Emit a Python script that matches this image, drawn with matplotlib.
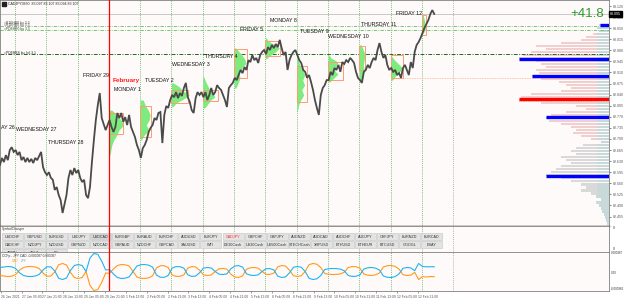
import numpy as np
import matplotlib
matplotlib.use("Agg")
import matplotlib.pyplot as plt
from matplotlib.patches import Rectangle
from matplotlib.transforms import blended_transform_factory

plt.rcParams['font.family'] = ['Liberation Sans', 'DejaVu Sans']
BG = '#FFFAFA'

# ------------------------------------------------------------------ data
title_text = "CADJPY,M30  83.097 83.107 83.094 83.107"
profit_text = "+41.8"

# time axis = trading hours since Wed 27 Jan 00:00 (weekends removed, 24 per day)
first_hour = -11.5
bar_step_h = 1.5
close_price = [
    82.618, 82.640, 82.627, 82.649, 82.633, 82.665, 82.674, 82.659, 82.665, 82.649,
    82.659, 82.633, 82.643, 82.627, 82.640, 82.627, 82.637, 82.624, 82.640, 82.633,
    82.646, 82.659, 82.611, 82.595, 82.586, 82.595, 82.577, 82.571, 82.539, 82.548,
    82.523, 82.507, 82.466, 82.494, 82.523, 82.577, 82.602, 82.586, 82.608, 82.592,
    82.602, 82.577, 82.564, 82.571, 82.523, 82.513, 82.548, 82.627, 82.697, 82.760,
    82.807, 82.845, 82.766, 82.747, 82.728, 82.744, 82.760, 82.738, 82.722, 82.738,
    82.782, 82.766, 82.782, 82.754, 82.769, 82.744, 82.776, 82.738, 82.722, 82.706,
    82.681, 82.665, 82.640, 82.671, 82.681, 82.697, 82.722, 82.735, 82.744, 82.766,
    82.760, 82.782, 82.785, 82.687, 82.776, 82.804, 82.798, 82.823, 82.839, 82.832,
    82.848, 82.829, 82.845, 82.836, 82.861, 82.877, 82.832, 82.817, 82.791, 82.782,
    82.829, 82.848, 82.839, 82.848, 82.832, 82.848, 82.823, 82.839, 82.861, 82.839,
    82.848, 82.870, 82.861, 82.855, 82.839, 82.823, 82.801, 82.861, 82.870, 82.877,
    82.893, 82.886, 82.902, 82.918, 82.908, 82.927, 82.918, 82.949, 82.943, 82.965,
    82.949, 82.956, 82.940, 82.965, 82.975, 82.981, 82.968, 82.990, 82.981, 82.997,
    82.987, 83.000, 82.990, 83.013, 82.987, 82.965, 82.975, 82.918, 82.949, 82.965,
    82.975, 82.981, 82.965, 82.949, 82.940, 82.918, 82.912, 82.893, 82.902, 82.880,
    82.855, 82.823, 82.798, 82.776, 82.839, 82.861, 82.870, 82.886, 82.886, 82.912,
    82.902, 82.924, 82.918, 82.934, 82.912, 82.943, 82.937, 82.949, 82.943, 82.956,
    82.949, 82.940, 82.912, 82.893, 82.886, 82.877, 82.912, 82.918, 82.934, 82.924,
    82.943, 82.956, 82.949, 82.981, 83.003, 82.975, 82.956, 82.965, 82.934, 82.918,
    82.924, 82.912, 82.918, 82.902, 82.908, 82.893, 82.924, 82.934, 82.918, 82.902,
    82.943, 82.924, 82.975, 82.997, 83.006, 83.019, 83.035, 83.051, 83.063, 83.076,
    83.095, 83.107, 83.095]

# CCFp indicator (units of 1e-5), one value every 3 hours
ccf_step_h = 3.0
ccf_cad = [
    -7.3, -8.3, -9.2, -8.6, -5.5, 2.4, 7.3, 9.0, 9.2, 8.3, 5.5, -2.8, -8.8, -8.4, -0.9,
    12.5, 14.7, 11.9, -1.8, -11.0, -12.8, -11.0, 0.0, -25.7, -34.9, -33.0, -20.2, -2.8, -3.3,
    4.6, 11.0, 12.8, 12.3, 10.1, 0.0, -10.1, -12.5, -12.8, -11.6, -8.1, 6.6, 10.6, 10.6, 7.2,
    -6.2, -9.0, -8.8, -6.2, 6.1, 9.0, 8.4, 2.4, -6.2, -7.3, -6.4, 0.0, 5.0, 5.5, 4.4,
    -4.8, -10.1, -10.8, -8.1, 4.2, 6.8, 7.3, 6.1, 0.0, -5.1, -5.3, -2.9, 8.6, 11.0, 9.9, 2.4,
    -7.7, -9.2, -7.9, 0.0, 12.5, 14.7, 13.4, 7.3, -3.7, -5.0, -5.5, -5.3, -4.4, -1.3,
    7.2, 9.0, 8.8, 6.1, -4.6, -6.8, -7.3, -6.2, -2.6, 8.3, 10.6, 11.0, 9.4, 4.4,
    -5.9, -7.3, -6.6, -1.5, -14.7, -9.2, -10.1, -9.2, -9.5]
ccf_jpy = [
    7.3, 8.3, 9.2, 8.6, 5.5, -2.4, -7.3, -9.0, -9.2, -8.3, -5.5, 2.8, 8.8, 8.4, 0.9,
    -12.5, -14.7, -11.9, 1.8, 11.0, 12.8, 11.0, 0.0, 24.8, 33.0, 31.5, 19.0, 2.8, 3.3,
    -4.6, -11.0, -12.8, -12.3, -10.1, 0.0, 10.1, 12.5, 12.8, 11.6, 8.1, -6.6, -10.6, -10.6, -7.2,
    6.2, 9.0, 8.8, 6.2, -6.1, -9.0, -8.4, -2.4, 6.2, 7.3, 6.4, 0.0, -5.0, -5.5, -4.4,
    4.8, 10.1, 10.8, 8.1, -4.2, -6.8, -7.3, -6.1, 0.0, 5.1, 5.3, 2.9, -8.6, -11.0, -9.9, -2.4,
    7.7, 9.2, 7.9, 0.0, -12.5, -14.7, -13.4, -7.3, 3.7, 5.0, 5.5, 5.3, 4.4, 1.3,
    -7.2, -9.0, -8.8, -6.1, 4.6, 6.8, 7.3, 6.2, 2.6, -8.3, -10.6, -11.0, -9.4, -4.4,
    5.9, 7.3, 6.6, 1.5, 14.7, 9.2, 8.5, 8.8, 8.6]

day_names = ["AY 26", "WEDNESDAY 27", "THURSDAY 28", "FRIDAY 29", "MONDAY 1",
             "TUESDAY 2", "WEDNESDAY 3", "THURSDAY 4", "FRIDAY 5", "MONDAY 8",
             "TUESDAY 9", "WEDNESDAY 10", "THURSDAY 11", "FRIDAY 12"]
month_name = "February"

# session value areas (start hour, width in hours, high, low)
va_start_h = [72, 96, 120, 144, 168, 192, 216, 240, 264, 288, 312]
va_width_h = [11.0, 8.5, 13.0, 12.0, 10.0, 11.5, 7.7, 11.5, 4.6, 9.2, 3.0]
va_high = [82.782, 82.804, 82.855, 82.855, 82.984, 83.009, 82.930, 82.943, 82.994, 82.965, 83.092]
va_low = [82.716, 82.706, 82.814, 82.820, 82.893, 82.962, 82.817, 82.886, 82.918, 82.893, 83.028]

# session volume profiles (price levels, width in hours)
prof_prices = [
    [82.791, 82.776, 82.760, 82.744, 82.728, 82.712, 82.697, 82.681, 82.665, 82.649],
    [82.823, 82.807, 82.791, 82.776, 82.760, 82.744, 82.728, 82.712, 82.697],
    [82.877, 82.864, 82.851, 82.839, 82.826, 82.814, 82.801],
    [82.896, 82.880, 82.861, 82.845, 82.832, 82.823, 82.810, 82.798],
    [82.987, 82.972, 82.956, 82.940, 82.924, 82.908, 82.893, 82.877, 82.861],
    [83.019, 83.009, 83.000, 82.987, 82.975, 82.962, 82.953],
    [82.956, 82.934, 82.918, 82.902, 82.886, 82.870, 82.855, 82.839, 82.823, 82.807, 82.791],
    [82.965, 82.956, 82.943, 82.930, 82.918, 82.905, 82.893, 82.880],
    [82.997, 82.981, 82.965, 82.949, 82.934, 82.918, 82.902, 82.886],
    [82.962, 82.949, 82.937, 82.924, 82.912, 82.899, 82.886],
    [83.095, 83.082, 83.069, 83.057, 83.044, 83.032]]
prof_width_h = [
    [2.3, 6.1, 9.2, 11.5, 7.7, 6.1, 3.8, 2.3, 1.5, 0.8],
    [2.3, 3.8, 6.1, 7.7, 6.9, 4.6, 6.9, 3.1, 0.8],
    [1.5, 6.1, 9.2, 13.8, 9.2, 3.8, 0.8],
    [0.8, 2.3, 4.6, 7.7, 9.2, 6.1, 3.8, 1.5],
    [1.5, 4.6, 7.7, 9.2, 6.1, 3.8, 4.6, 3.1, 1.5],
    [0.8, 2.3, 6.1, 10.7, 7.7, 3.1, 0.8],
    [0.8, 2.3, 4.6, 6.1, 4.6, 6.1, 3.8, 5.4, 3.1, 1.5, 0.8],
    [0.8, 2.3, 7.7, 6.1, 4.6, 7.7, 4.6, 1.5],
    [1.5, 3.1, 4.6, 3.8, 3.1, 3.8, 3.1, 1.5],
    [0.8, 3.1, 6.1, 9.2, 6.9, 3.8, 1.5],
    [0.8, 1.5, 2.3, 3.1, 2.3, 0.8]]

# composite volume profile on the right (top bin price, bin size, lengths in hours)
vp_top_price = 83.060
vp_bin = 0.0095
vp_len_h = [7.7, 9.2, 7.7, 12.3, 17.6, 21.5, 36.8, 56.0, 48.3, 59.8, 66.0, 69.0, 56.0, 52.2,
            48.3, 56.0, 53.7, 59.1, 52.2, 38.4, 33.0, 29.1, 36.8, 59.8, 67.5, 69.0, 52.2, 25.3,
            17.6, 33.0, 44.5, 48.3, 46.0, 36.8, 29.1, 25.3, 27.6, 21.5, 13.8, 6.1, 19.9, 25.3,
            29.1, 25.3, 36.8, 33.0, 29.1, 36.8, 40.7, 44.5, 48.3, 36.8, 29.1, 21.5, 17.6, 21.5,
            13.8, 10.0, 6.1, 10.0, 7.7, 6.1, 5.4, 3.8, 3.1, 2.3, 1.5]
key_level_price = [83.060, 82.953, 82.899, 82.826, 82.769, 82.583]
key_level_len_h = [6.9, 69.0, 59.0, 69.0, 48.0, 48.0]

pivot_prices = [83.057, 83.044, 82.968]
pivot_names = ["=R1EHB0 bu 3.3", "=PDEHB0 bu 3.5", "=PDEHBS bu_hrl.3.1"]

price_ticks = [83.120 - 0.035 * i for i in range(20)]

date_labels = ["26 Jan 2021", "27 Jan 05:00", "27 Jan 21:00", "28 Jan 13:00", "29 Jan 05:00",
               "29 Jan 21:00", "1 Feb 13:00", "2 Feb 05:00", "2 Feb 21:00", "3 Feb 13:00",
               "4 Feb 05:00", "4 Feb 21:00", "5 Feb 13:00", "8 Feb 05:00", "8 Feb 21:00",
               "9 Feb 13:00", "10 Feb 05:00", "10 Feb 21:00", "11 Feb 13:00", "12 Feb 05:00",
               "12 Feb 21:00"]

symbols_row1 = ["USDCHF", "GBPUSD", "EURUSD", "USDJPY", "USDCAD", "EURGBP", "EURAUD", "EURCHF",
                "AUDUSD", "EURJPY", "CADJPY", "GBPCHF", "GBPJPY", "AUDNZD", "AUDCAD", "AUDCHF",
                "AUDJPY", "CHFJPY", "EURNZD", "EURCAD"]
symbols_row2 = ["CADCHF", "NZDJPY", "NZDUSD", "GBPNZD", "NZDCAD", "GBPAUD", "NZDCHF", "GBPCAD",
                "XAUUSD", "WTI", "DE30Cash", "US30Cash", "US500Cash", "STECHCash", "XRPUSD",
                "ETHUSD", "ETHEUR", "BTCUSD", "GOOGL", "EBAY"]
symbols_row3 = ["AMZN", "TSLA", "FB"]

# ------------------------------------------------------------------ figure
W, H = 625, 301
fig = plt.figure(figsize=(W / 100, H / 100), dpi=100, facecolor='white')
R = 609 / W
ax = fig.add_axes([0, 1 - 226 / H, R, 226 / H], facecolor=BG)
axs = fig.add_axes([0, 1 - 252 / H, R, 26 / H], facecolor=BG)
axi = fig.add_axes([0, 1 - 291 / H, R, 39 / H], facecolor=BG)

t_left, t_right = -11.5, 455.5
for a in (ax, axs, axi):
    a.set_xlim(t_left, t_right)
    for s in a.spines.values():
        s.set_color('#808080')
        s.set_linewidth(0.6)
ax.set_ylim(82.425, 83.139)
axs.set_ylim(26, 0)
axi.set_ylim(-35.8, 35.8)
ax.spines['bottom'].set_color('black')
ax.spines['bottom'].set_linewidth(1.0)

# day separators
for k in range(15):
    t = 24 * k
    for a in (ax, axs, axi):
        if k == 3:
            a.axvline(t, color='#FF0000', lw=0.9, zorder=4)
        elif k == 14:
            a.axvline(t, color='#9A9A9A', lw=0.6, ls=(0, (1, 1.5)), zorder=1)
        else:
            a.axvline(t, color='#4DAA4D', lw=0.6, ls=(0, (1, 1.5)), zorder=1)

# composite profile on right
vp_levels = vp_top_price - vp_bin * np.arange(len(vp_len_h))
vp_len = np.array(vp_len_h)
vp_cols = ['#F2CFCF' if p > 82.685 else '#D9D9D9' for p in vp_levels]
ax.barh(vp_levels, vp_len, left=t_right - vp_len, height=vp_bin * 0.75,
        color=vp_cols, lw=0, zorder=1)
ax.barh(vp_levels, np.minimum(vp_len, 9), left=t_right - np.minimum(vp_len, 9),
        height=vp_bin * 0.75, color='#C9D9D9', lw=0, zorder=1)

# pivot / reference lines
ax.axhline(close_price[-1], color='#C0C0C0', lw=0.6, zorder=2)
ax.axhline(pivot_prices[0], color='#66BB66', lw=0.6, ls=(0, (4, 1.5, 1, 1.5)), zorder=2)
ax.axhline(pivot_prices[1], color='#66BB66', lw=0.6, ls=(0, (4, 1.5, 1, 1.5)), zorder=2)
ax.axhline(pivot_prices[2], color='#1F6B1F', lw=0.7, ls=(0, (4, 1.5, 1, 1.5)), zorder=2)
ytr = blended_transform_factory(ax.transAxes, ax.transData)
ax.text(4 / 609, pivot_prices[0] + 0.010, pivot_names[0], fontsize=2.4, color='#444444',
        transform=ytr, va='center')
ax.text(4 / 609, pivot_prices[0] + 0.002, pivot_names[0], fontsize=2.4, color='#444444',
        transform=ytr, va='center')
ax.text(4 / 609, pivot_prices[1] + 0.002, pivot_names[1], fontsize=2.4, color='#444444',
        transform=ytr, va='center')
ax.text(4 / 609, pivot_prices[2] + 0.005, pivot_names[2], fontsize=2.4, color='#222222',
        transform=ytr, va='center')

# session profiles and value areas
for t0, pp, ww in zip(va_start_h, prof_prices, prof_width_h):
    ax.fill_betweenx(pp, t0, t0 + np.array(ww), color='#7DEB7D', lw=0, zorder=2)
for t0, w, hi, lo in zip(va_start_h, va_width_h, va_high, va_low):
    ax.add_patch(Rectangle((t0, lo), w, hi - lo, fill=False, ec='#FF9C6E', lw=0.7, zorder=3))
# extension of last full session value-area low
ax.hlines(va_low[9], va_start_h[9] + va_width_h[9], t_right, color='#FFB08A', lw=0.6,
          ls=(0, (1, 1)), zorder=2)
ax.hlines(key_level_price[3] - 0.006, t_right - key_level_len_h[3], t_right, color='#FFA060',
          lw=0.6, ls=(0, (1, 1)), zorder=2)

# key levels
for p, L, c in zip(key_level_price, key_level_len_h,
                   ['#0000FF', '#0000FF', '#0000FF', '#FF0000', '#0000FF', '#0000FF']):
    ax.hlines(p, t_right - L, t_right, color=c, lw=2.4, zorder=3)

# price
times = first_hour + bar_step_h * np.arange(len(close_price))
ax.plot(times, close_price, color='#4A4A4A', lw=1.3, zorder=5, solid_joinstyle='miter')

# day labels
day_label_pos = [(-11.0, 82.735), (1.0, 82.731), (25.3, 82.690), (52.0, 82.902), (76.0, 82.855),
                 (99.7, 82.886), (120.4, 82.934), (145.7, 82.959), (172.6, 83.047),
                 (195.6, 83.073), (218.6, 83.041), (240.0, 83.025), (265.4, 83.063),
                 (292.2, 83.095)]
for name, (tx, py) in zip(day_names, day_label_pos):
    ax.text(tx, py, name, fontsize=3.8, color='#111111', va='center', ha='left', zorder=6)
ax.text(75.2, 82.886, month_name, fontsize=4.6, color='#FF1A1A', fontweight='bold',
        va='center', ha='left', zorder=6)

# title and profit text
ax.add_patch(Rectangle((1.5 / 609, 1 - 6 / 226), 4 / 609, 4 / 226, transform=ax.transAxes,
                       color='#222222', zorder=6))
ax.text(8 / 609, 1 - 4 / 226, title_text, fontsize=2.6, color='#222222', va='center',
        transform=ax.transAxes)
ax.text(604 / 609, 1 - 14 / 226, profit_text, fontsize=9.5, color='#2E9A2E', va='center',
        ha='right', transform=ax.transAxes, zorder=7)

# price axis
ax.yaxis.tick_right()
ax.set_yticks(price_ticks)
ax.set_yticklabels([f"{p:.3f}" for p in price_ticks], fontsize=2.6, color='#333333')
ax.tick_params(axis='y', length=1.5, width=0.5, pad=1, colors='#555555')
ax.set_xticks([])
ax.text(1.002, close_price[-1], f"{close_price[-1]:.3f}", transform=ytr, fontsize=2.6,
        color='white', va='center', ha='left', zorder=10,
        bbox=dict(boxstyle='square,pad=0.25', fc='black', ec='black'))

# symbol changer panel
axs.set_xticks([]); axs.set_yticks([])
axs.text(2 / 609, 1 - 3 / 26, "SymbolChanger", fontsize=2.3, color='#333333', va='center',
         transform=axs.transAxes)
for yy in (2, 23):
    axs.text(1.006, 1 - yy / 26, "0", fontsize=2.4, color='#333333', va='center',
             transform=axs.transAxes, clip_on=False)
pitch = 22.05 / 609
bw = 21 / 609
for row, y0 in ((symbols_row1, 7), (symbols_row2, 15), (symbols_row3, 23)):
    for i, s in enumerate(row):
        x0 = 2 / 609 + i * pitch
        fc = '#D2D2D2' if s == "USDCAD" else '#E3E3E3'
        axs.add_patch(Rectangle((x0, 1 - (y0 + 7) / 26), bw, 7 / 26, transform=axs.transAxes,
                                fc=fc, ec='#C4C4C4', lw=0.4, clip_on=True))
        axs.text(x0 + bw / 2, 1 - (y0 + 3.6) / 26, s, fontsize=2.7,
                 color='#FF3030' if s == "CADJPY" else '#333333', ha='center', va='center',
                 transform=axs.transAxes, clip_on=True)

# indicator panel
ti = first_hour + ccf_step_h * np.arange(len(ccf_cad))
axi.plot(ti, ccf_cad, color='#FF9A1A', lw=0.8, zorder=3)
axi.plot(ti, ccf_jpy, color='#1EB4F0', lw=0.8, zorder=3)
axi.set_yticks([])
axi.text(2 / 609, 1 - 4 / 39, "CCFp - JPY CAD -0.000087 0.000087", fontsize=2.3,
         color='#333333', va='center', transform=axi.transAxes)
axi.text(12 / 609, 1 - 8.5 / 39, "CAD", fontsize=2.3, color='#FF9A1A', va='center',
         transform=axi.transAxes)
axi.text(21 / 609, 1 - 8.5 / 39, "JPY", fontsize=2.3, color='#1EB4F0', va='center',
         transform=axi.transAxes)
for yy, lab in ((1, "0.000367"), (20.5, "0.00"), (37.5, "-0.000366")):
    axi.text(1.003, 1 - yy / 39, lab, fontsize=2.2, color='#333333', va='center',
             transform=axi.transAxes, clip_on=False)

date_ticks = [-11 + 16 * i for i in range(len(date_labels))]
axi.set_xticks(date_ticks)
axi.set_xticklabels(date_labels, fontsize=2.4, color='#333333', ha='left')
axi.tick_params(axis='x', length=1.5, width=0.4, pad=1.2, colors='#555555')

fig.savefig("out.png", dpi=100, facecolor='white')
